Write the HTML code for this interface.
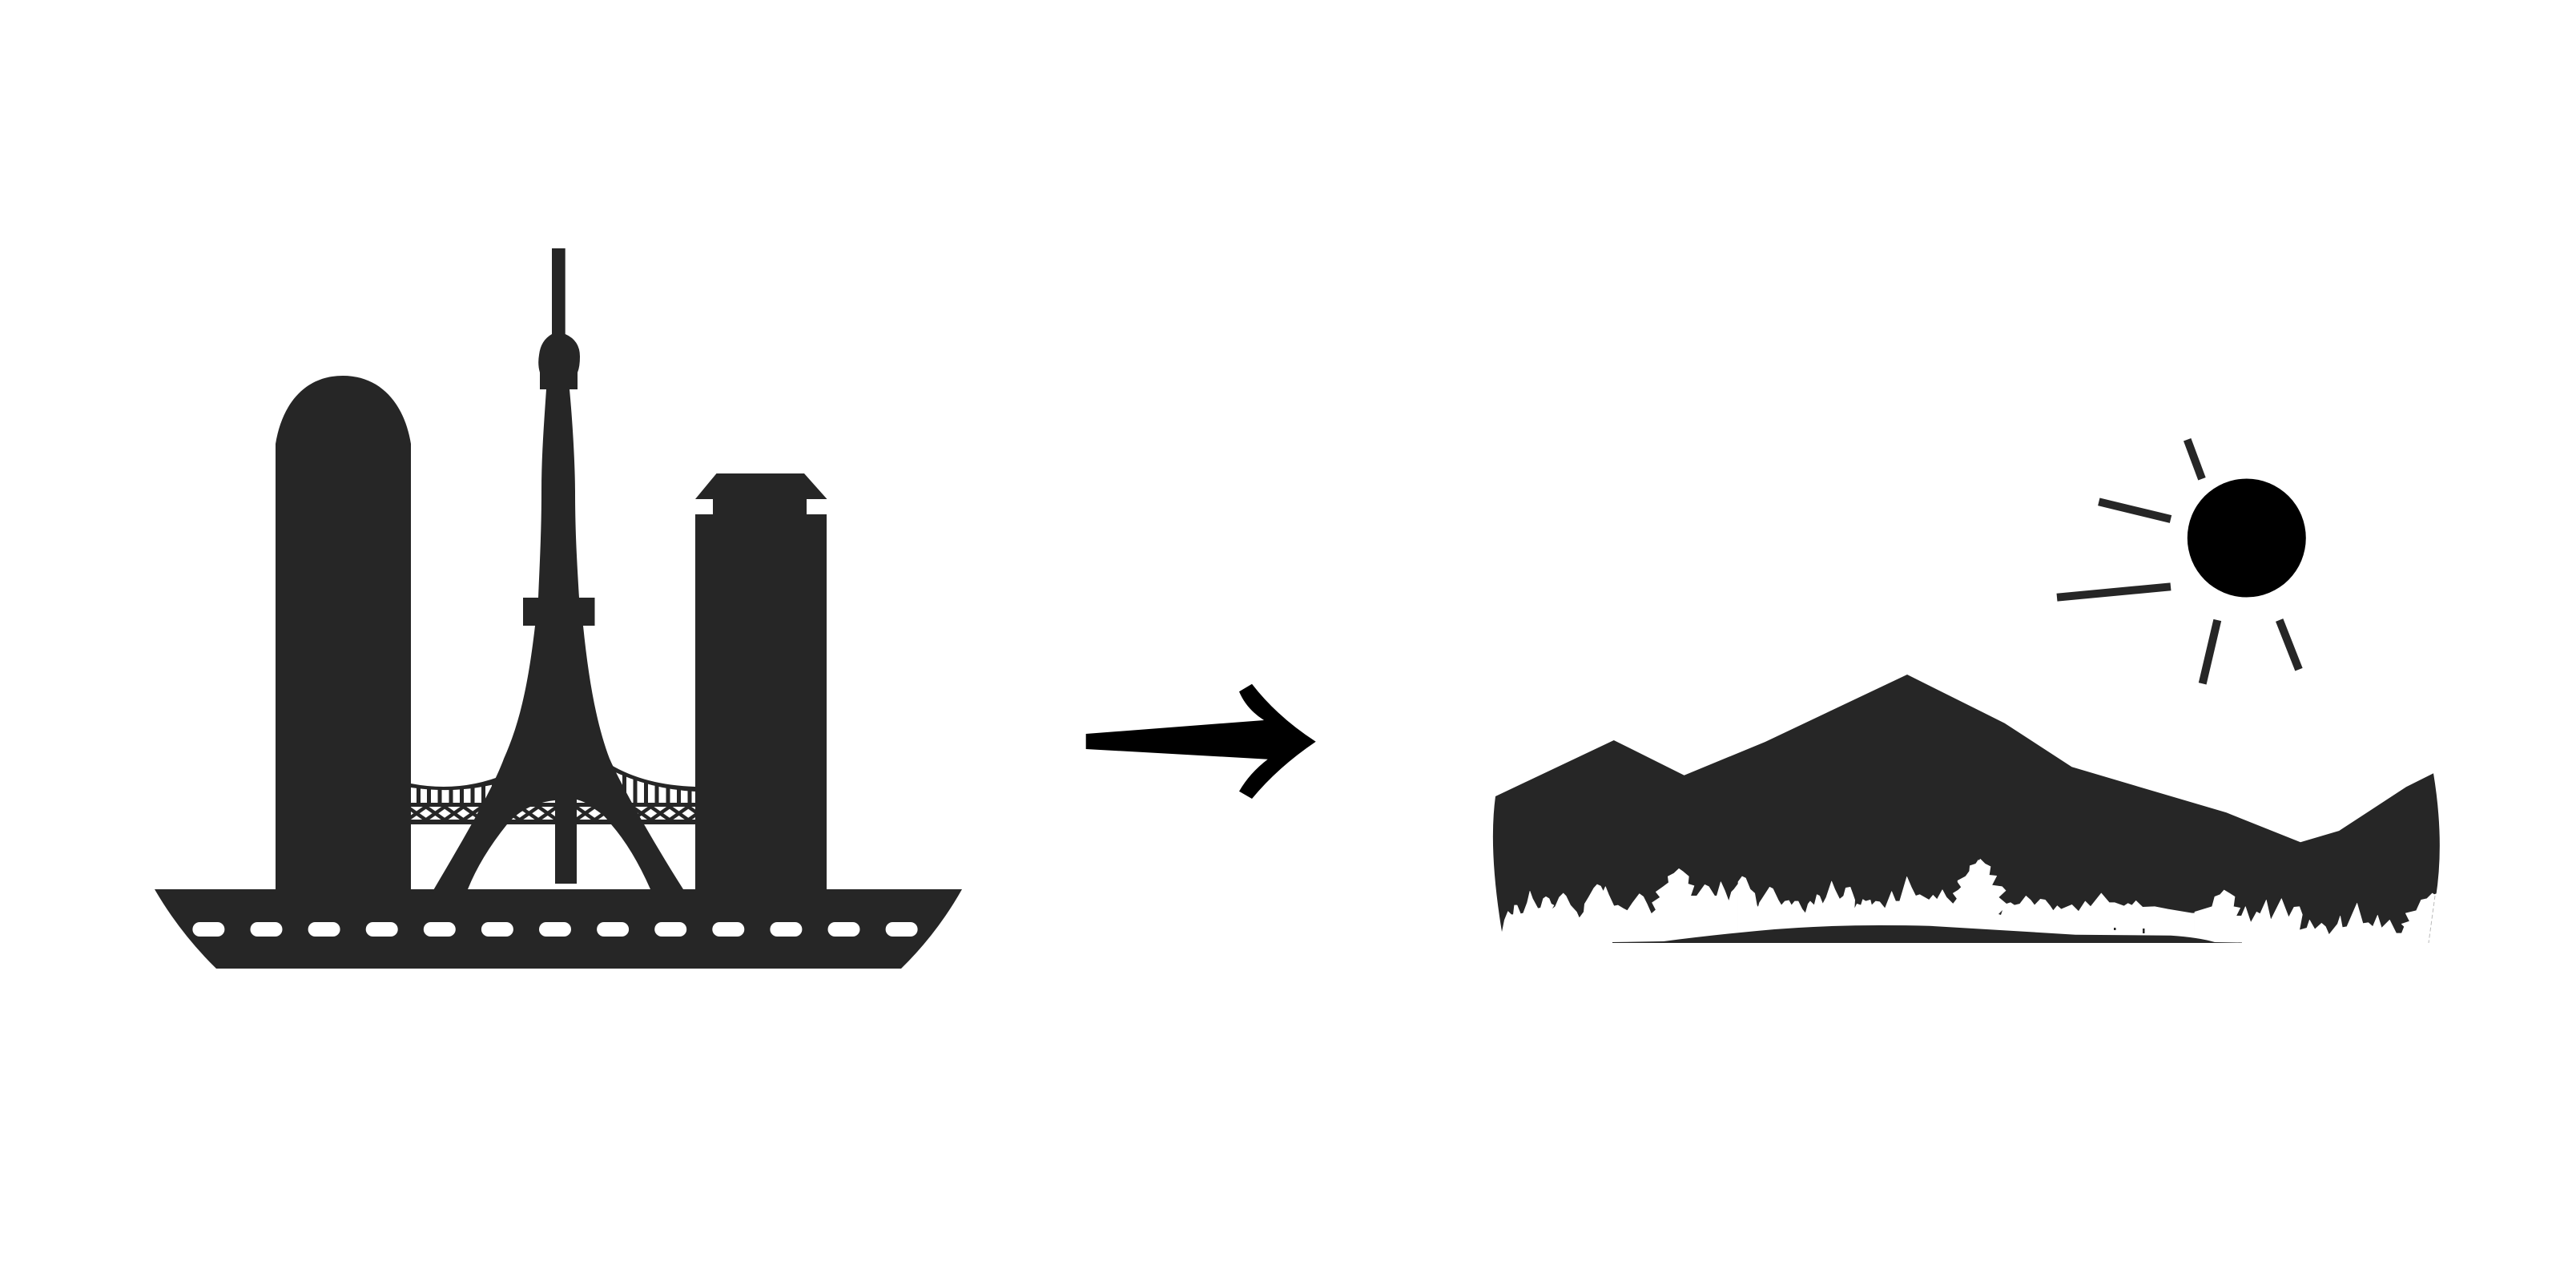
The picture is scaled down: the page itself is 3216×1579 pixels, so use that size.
<!DOCTYPE html>
<html><head><meta charset="utf-8"><style>html,body{margin:0;padding:0;background:#fff}svg{display:block}</style></head><body>
<svg xmlns="http://www.w3.org/2000/svg" width="3216" height="1579" viewBox="0 0 3216 1579">
<defs><pattern id="lat" x="508.300" y="1007" width="23.4" height="16.500" patternUnits="userSpaceOnUse">
<path d="M0 0L23.4 16.500M23.4 0L0 16.500" stroke="#262626" stroke-width="4.500"/></pattern></defs>
<rect width="3216" height="1579" fill="#fff"/>
<g fill="#262626">
<!-- bridge -->
<rect x="513" y="1002" width="355" height="5"/>
<rect x="513" y="1007" width="355" height="16.500" fill="url(#lat)"/>
<rect x="513" y="1023" width="355" height="6"/>
<path d="M513 978Q575 990 632 966L632 975Q575 992 513 983Z"/>
<path d="M755 950Q800 980 868 982V988Q810 985 760 960Z"/>
<path d="M522.5 982V1002M535.500 983V1002M549 984V1002M563 984V1002M576.500 983V1002M590 980V1002M603.500 977V1002M616.500 974V1002M779.500 965V1002M793 970V1002M806.500 975V1002M820 978V1002M834 981V1002M847.500 983V1002M861 984V1002" stroke="#262626" stroke-width="5" fill="none"/>
<!-- left building -->
<path d="M344 1112V554C352 505 380 469 428 469C476 469 505 505 513 554V1112Z"/>
<!-- right building -->
<rect x="868" y="642" width="164" height="470"/>
<path d="M868 623L894.500 591H1004L1032.500 623H1007V642H890V623Z"/>
<!-- base -->
<path d="M193 1110H1201Q1170 1165 1125 1209H270Q225 1165 193 1110Z"/>
<!-- tower -->
<path d="M689 310H705.700V417Q724 425 724 445Q724 458 721 465V486H711C716 540 718 590 718 613C718 670 721 710 723 746H742.500V781H728C735 850 745 905 761 947C778 985 815 1050 853 1110H812Q790 1060 763 1029Q745 1005 720 998V1103H693V999Q655 1003 633 1029Q600 1070 584 1110H541.700C580 1045 615 985 629 947C650 900 660 850 668 781H653V746H672C674 700 676 660 676 613C676 570 679 530 682 486H674V465Q671 455 673 443Q675 425 689 417Z"/>
</g>
<!-- portholes -->
<g fill="#fff">
<rect x="240.400" y="1151" width="40" height="18" rx="9"/><rect x="312.500" y="1151" width="40" height="18" rx="9"/><rect x="384.600" y="1151" width="40" height="18" rx="9"/><rect x="456.700" y="1151" width="40" height="18" rx="9"/><rect x="528.800" y="1151" width="40" height="18" rx="9"/><rect x="600.900" y="1151" width="40" height="18" rx="9"/><rect x="673" y="1151" width="40" height="18" rx="9"/><rect x="745.100" y="1151" width="40" height="18" rx="9"/><rect x="817.200" y="1151" width="40" height="18" rx="9"/><rect x="889.300" y="1151" width="40" height="18" rx="9"/><rect x="961.400" y="1151" width="40" height="18" rx="9"/><rect x="1033.500" y="1151" width="40" height="18" rx="9"/><rect x="1105.600" y="1151" width="40" height="18" rx="9"/>
</g>
<!-- arrow -->
<path fill="#000" d="M1355.700 916L1578 899Q1556 885 1547 863.300L1563 853.700Q1595 895 1642.700 925.700Q1595 958 1563 997L1547 987.700Q1560 965 1582.700 947.700L1355.700 935Z"/>
<!-- mountain -->
<path fill="#262626" d="M1867 994L2014.800 924L2102.600 967.700L2203.800 926L2381 842L2502.700 902.700L2586.500 957.300L2779.500 1014.300L2872 1051.300L2920.300 1037L3004 982.300L3038 965.300Q3052 1050 3041 1120L3030 1175H1880L1875 1163Q1858 1060 1867 994Z"/>
<!-- forest clearing -->
<g fill="#fff" stroke="#fff" stroke-width="2" stroke-linejoin="round">
<polygon transform="translate(1870,1070) scale(.3333)" points="15,285 25,235 38,203 50,215 58,215 62,180 72,180 85,212 95,210 110,170 120,127 130,155 150,192 160,190 170,155 180,148 192,155 200,175 210,180 200,197 215,185 230,150 245,135 255,145 272,180 295,205 305,228 322,205 325,175 340,150 360,115 372,102 385,108 395,128 403,110 415,140 435,183 450,180 470,192 485,200 505,170 530,137 545,148 560,178 575,212 592,197 578,170 608,150 592,130 620,110 640,95 637,72 660,60 678,43 695,55 715,72 712,100 735,107 722,145 745,145 775,103 790,110 812,145 820,145 835,92 850,125 865,165 875,130 885,120 900,100 900,330 5,330"/>
<polygon transform="translate(2170,1060) scale(.3333)" points="0,122 15,102 28,108 45,150 62,165 70,210 75,218 80,200 90,185 118,142 130,148 150,190 162,210 175,195 190,192 200,210 212,195 225,195 240,225 252,240 262,205 270,195 285,210 295,170 305,175 317,205 330,180 350,120 362,150 380,187 395,175 403,145 420,142 430,170 437,190 435,225 445,205 460,210 467,188 478,195 495,190 500,210 515,195 530,197 550,222 575,158 590,195 605,195 632,103 650,145 665,175 680,170 715,190 730,172 745,188 765,152 780,180 805,205 820,185 805,165 838,145 822,122 850,105 868,80 868,62 890,55 900,40 900,360 0,360"/>
<polygon transform="translate(2440,1060) scale(.3333)" points="0,205 10,185 0,168 28,140 12,118 55,95 58,65 80,55 97,37 115,55 135,65 130,97 158,100 140,135 178,140 192,155 165,180 195,205 210,200 225,210 245,205 268,175 285,190 300,210 322,187 340,190 358,212 370,230 385,212 400,225 440,208 465,233 490,195 510,215 550,165 580,200 600,200 635,213 650,203 665,210 680,193 705,217 750,215 800,225 890,240 900,240 900,360 0,360"/>
<polygon transform="translate(2740,1100) scale(.3333)" points="0,115 65,95 75,58 95,50 110,33 130,45 150,58 145,95 170,100 155,130 175,130 190,95 210,155 232,115 245,122 268,70 285,145 325,65 352,135 372,97 392,95 403,125 392,183 420,175 430,145 450,180 475,157 490,170 503,200 535,160 545,130 553,173 570,170 608,82 630,158 650,155 667,170 685,127 700,175 730,145 755,195 775,195 785,170 775,160 805,150 790,120 830,110 848,70 870,65 890,45 897,50 925,40 925,260 0,260"/>
</g>
<path d="M3040 1118L3032 1177" stroke="#bbb" stroke-width="1" stroke-dasharray="5 3" fill="none"/>
<g fill="#262626">
<path d="M2013 1176L2077 1175Q2130 1168 2196 1161.700Q2270 1155 2346 1155Q2380 1155 2409 1155.700L2591 1166.700L2710 1167.700Q2745 1170 2765 1176L2799 1176.500V1177H2013Z"/>
<rect x="2639" y="1158" width="2.500" height="3"/><rect x="2675" y="1159" width="2.500" height="6"/>
<polygon points="2495,1141 2500,1136 2498,1142"/>
</g>
<!-- sun -->
<circle cx="2804.800" cy="671.500" r="74" fill="#000"/>
<g stroke="#262626" stroke-width="10" fill="none">
<path d="M2730.700 548.700L2749 597.700"/><path d="M2620.300 626.300L2710 648"/><path d="M2568 745.700L2710 732.300"/><path d="M2768.300 774L2749.700 853.300"/><path d="M2845.700 774L2870 835.700"/>
</g>
</svg>
</body></html>
